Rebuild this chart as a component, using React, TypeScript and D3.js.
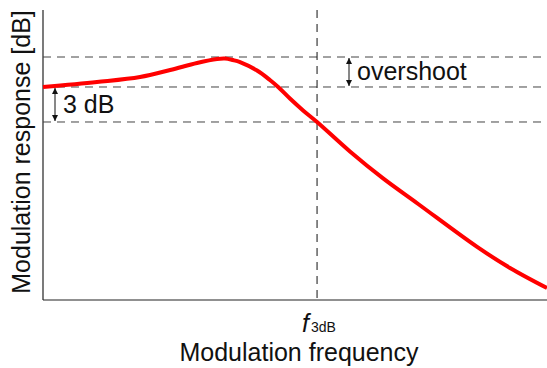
import React, { useEffect, useRef } from "react";
import * as d3 from "d3";

// normalized frequency f / f3dB
const freq = [0, 0.197, 0.354, 0.464, 0.562, 0.635, 0.664, 0.693, 0.719, 0.781, 0.828, 0.858, 0.901, 0.949, 1, 1.12, 1.241, 1.369, 1.584, 1.704, 1.839];
// modulation response in dB
const response = [0, 0.43, 0.86, 1.46, 2.06, 2.4, 2.44, 2.31, 2.14, 1.41, 0.6, 0, -0.99, -2.01, -3.0, -5.53, -7.84, -10.03, -13.71, -15.51, -17.23];
const levels = [2.57, 0, -3]; // overshoot, DC level, -3 dB
const f3dB = 1;

const W = 547, H = 368;
const margin = { left: 43, right: 0, top: 10, bottom: 68 };

export default function App() {
  const ref = useRef<SVGSVGElement>(null);
  useEffect(() => {
    const svg = d3.select(ref.current);
    svg.selectAll("*").remove();
    const x = d3.scaleLinear().domain([0, 1.839]).range([margin.left, W - margin.right]);
    const y = d3.scaleLinear().domain([-18.26, 6.6]).range([H - margin.bottom, margin.top]);
    const font = "Liberation Sans, Arial, sans-serif";

    // axes
    svg.append("line").attr("x1", x(0)).attr("x2", x(0)).attr("y1", margin.top).attr("y2", H - margin.bottom)
      .attr("stroke", "#222").attr("stroke-width", 1.2);
    svg.append("line").attr("x1", x(0)).attr("x2", W).attr("y1", H - margin.bottom).attr("y2", H - margin.bottom)
      .attr("stroke", "#222").attr("stroke-width", 1.2);

    // dashed horizontal levels
    svg.selectAll(".lvl").data(levels).enter().append("line")
      .attr("x1", x(0)).attr("x2", W).attr("y1", d => y(d)).attr("y2", d => y(d))
      .attr("stroke", "#444").attr("stroke-width", 1).attr("stroke-dasharray", "8,6");
    // vertical f3dB
    svg.append("line").attr("x1", x(f3dB)).attr("x2", x(f3dB)).attr("y1", margin.top).attr("y2", H - margin.bottom)
      .attr("stroke", "#111").attr("stroke-width", 1).attr("stroke-dasharray", "8,6");

    // curve
    const line = d3.line<number>().x((_, i) => x(freq[i])).y(d => y(d)).curve(d3.curveCatmullRom.alpha(0.5));
    svg.append("path").attr("d", line(response)).attr("fill", "none").attr("stroke", "#ff0000")
      .attr("stroke-width", 4);

    // arrows
    const defs = svg.append("defs");
    defs.append("marker").attr("id", "ah").attr("viewBox", "0 0 10 10").attr("refX", 10).attr("refY", 5)
      .attr("markerWidth", 6).attr("markerHeight", 6).attr("orient", "auto-start-reverse")
      .append("path").attr("d", "M0,0 L10,5 L0,10 z").attr("fill", "#111");
    const arrow = (ax: number, y1: number, y2: number) =>
      svg.append("line").attr("x1", ax).attr("x2", ax).attr("y1", y1 + 1).attr("y2", y2 - 1)
        .attr("stroke", "#111").attr("stroke-width", 1)
        .attr("marker-start", "url(#ah)").attr("marker-end", "url(#ah)");
    arrow(55, y(0), y(-3));
    arrow(349, y(2.57), y(0));

    svg.append("text").attr("x", 63).attr("y", 113).text("3 dB")
      .attr("font-family", font).attr("font-size", 25).attr("fill", "#111");
    svg.append("text").attr("x", 357).attr("y", 80).text("overshoot")
      .attr("font-family", font).attr("font-size", 25).attr("fill", "#111");

    // f3dB label
    const ft = svg.append("text").attr("x", x(f3dB) - 15).attr("y", 332).attr("font-family", font).attr("fill", "#111");
    ft.append("tspan").text("f").attr("font-style", "italic").attr("font-size", 25);
    ft.append("tspan").text("3dB").attr("font-size", 14).attr("dx", 2);

    // axis titles
    svg.append("text").attr("x", 299).attr("y", 361).attr("text-anchor", "middle").text("Modulation frequency")
      .attr("font-family", font).attr("font-size", 25).attr("fill", "#111");
    svg.append("text").attr("transform", `translate(30,${152}) rotate(-90)`).attr("text-anchor", "middle")
      .text("Modulation response [dB]").attr("font-family", font).attr("font-size", 25).attr("fill", "#111");
  }, []);
  return (
    <svg ref={ref} width={W} height={H} style={{ position: "fixed", left: 0, top: 0, background: "#fff" }} />
  );
}
